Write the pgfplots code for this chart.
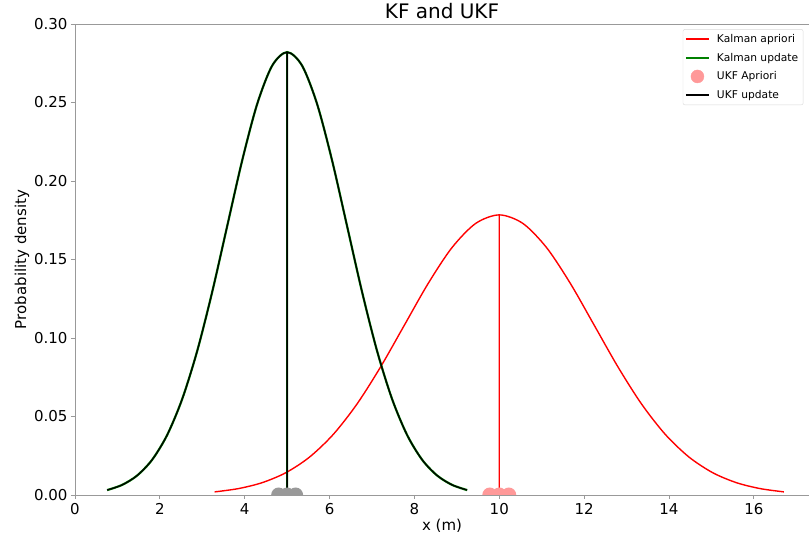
\documentclass[border=0pt]{standalone}
\usepackage{fontspec}
\setmainfont{DejaVu Sans}
\usepackage{pgfplots}
\pgfplotsset{compat=1.18}
\usetikzlibrary{calc}

\definecolor{mplgreen}{rgb}{0,0.5,0}
\definecolor{spine}{rgb}{0.6,0.6,0.6}
\definecolor{priorpt}{rgb}{1,0.6,0.6}
\definecolor{postpt}{rgb}{0.6,0.6,0.6}

% upper half of a disc: sigma points sit on the x axis, the lower half lies outside the axes
\pgfdeclareplotmark{halfdisc}{%
  \pgfpathmoveto{\pgfqpoint{\pgfplotmarksize}{0pt}}%
  \pgfpatharc{0}{180}{\pgfplotmarksize}%
  \pgfpathclose
  \pgfusepathqfill}

% legend sample box: 23pt of line, 6pt of gap before the text
\newcommand{\legendbox}{\pgfpathrectangle{\pgfpoint{0pt}{-1pt}}{\pgfpoint{29pt}{2pt}}\pgfusepath{use as bounding box}}

\begin{document}
\begin{tikzpicture}
\begin{axis}[
  name=ax,
  at={(0,0)}, anchor=south west,
  scale only axis, width=734pt, height=471pt,
  xmin=0, xmax=17.3, ymin=0, ymax=0.30,
  axis x line*=box, axis y line*=left,
  axis line style={spine, line width=0.8pt},
  xtick={0,2,...,16}, ytick={0,0.05,...,0.30},
  xtick pos=bottom, ytick pos=left,
  tick align=outside, major tick length=4pt,
  every tick/.style={spine, line width=0.8pt},
  /pgf/number format/assume math mode=true,
  yticklabel style={/pgf/number format/fixed, /pgf/number format/fixed zerofill, /pgf/number format/precision=2},
  ticklabel style={font=\fontsize{15}{18}\selectfont},
  xticklabel style={yshift=-1pt},
  title={KF and UKF},
  title style={font=\fontsize{20}{23}\selectfont, yshift=-4pt},
  xlabel={x (m)}, ylabel={Probability density},
  label style={font=\fontsize{15}{18}\selectfont},
  xlabel style={yshift=3pt},
  ylabel style={yshift=-2pt},
  unbounded coords=jump,
  legend image code/.code={\legendbox\draw[#1] (0pt,0pt) -- (23pt,0pt);},
  legend style={at={(rel axis cs:0.828,0.989)}, anchor=north west,
    font=\fontsize{10.7}{13}\selectfont, draw=black!15, rounded corners=2pt,
    row sep=5pt, inner xsep=3pt, inner ysep=3pt},
  legend cell align=left,
]
% Kalman prior, N(10, 5), +-3 sigma, then a stem at the mean
\addplot[draw=red, line width=1.4pt, smooth] coordinates {
(3.2918,0.00198) (3.8508,0.00407) (4.4098,0.00784) (4.9688,0.01419)
(5.5279,0.02415) (6.0869,0.03858) (6.6459,0.05792) (7.2049,0.08168)
(7.7639,0.10821) (8.3229,0.13467) (8.8820,0.15745) (9.4410,0.17292)
(10.0000,0.17841)
(10.5590,0.17292) (11.1180,0.15745) (11.6771,0.13467) (12.2361,0.10821)
(12.7951,0.08168) (13.3541,0.05792) (13.9131,0.03858) (14.4721,0.02415)
(15.0312,0.01419) (15.5902,0.00784) (16.1492,0.00407) (16.7082,0.00198)
(10,nan) (10,0) (10,0.17841)};
\addlegendentry{Kalman apriori}
% Kalman posterior, N(5, 2), +-3 sigma, then a stem at the mean
\addplot[draw=mplgreen, line width=2.2pt, smooth] coordinates {
(0.7574,0.00313) (1.1109,0.00643) (1.4645,0.01240) (1.8180,0.02244)
(2.1716,0.03818) (2.5251,0.06101) (2.8787,0.09158) (3.2322,0.12915)
(3.5858,0.17110) (3.9393,0.21294) (4.2929,0.24895) (4.6464,0.27341)
(5.0000,0.28210)
(5.3536,0.27341) (5.7071,0.24895) (6.0607,0.21294) (6.4142,0.17110)
(6.7678,0.12915) (7.1213,0.09158) (7.4749,0.06101) (7.8284,0.03818)
(8.1820,0.02244) (8.5355,0.01240) (8.8891,0.00643) (9.2426,0.00313)
(5,nan) (5,0) (5,0.28210)};
\addlegendentry{Kalman update}
% UKF prior sigma points
\addplot[only marks, mark=halfdisc, mark size=7.5pt, forget plot,
  mark options={fill=priorpt}] coordinates {
(9.776,0) (10.0,0) (10.224,0)};
\addlegendimage{legend image code/.code={\legendbox\fill[priorpt] (11.5pt,0pt) circle (6.5pt);}}
\addlegendentry{UKF Apriori}
% UKF posterior sigma points
\addplot[only marks, mark=halfdisc, mark size=7.5pt, forget plot,
  mark options={fill=postpt}] coordinates {
(4.8,0) (5.0,0) (5.2,0)};
% UKF posterior, same density as the Kalman update
\addplot[draw=black, line width=1.3pt, smooth] coordinates {
(0.7574,0.00313) (1.1109,0.00643) (1.4645,0.01240) (1.8180,0.02244)
(2.1716,0.03818) (2.5251,0.06101) (2.8787,0.09158) (3.2322,0.12915)
(3.5858,0.17110) (3.9393,0.21294) (4.2929,0.24895) (4.6464,0.27341)
(5.0000,0.28210)
(5.3536,0.27341) (5.7071,0.24895) (6.0607,0.21294) (6.4142,0.17110)
(6.7678,0.12915) (7.1213,0.09158) (7.4749,0.06101) (7.8284,0.03818)
(8.1820,0.02244) (8.5355,0.01240) (8.8891,0.00643) (9.2426,0.00313)
(5,nan) (5,0) (5,0.28210)};
\addlegendentry{UKF update}
\end{axis}
\pgfresetboundingbox
\path ($(ax.south west)+(-75pt,-45pt)$) rectangle ($(ax.north east)+(0pt,24pt)$);
\end{tikzpicture}
\end{document}
